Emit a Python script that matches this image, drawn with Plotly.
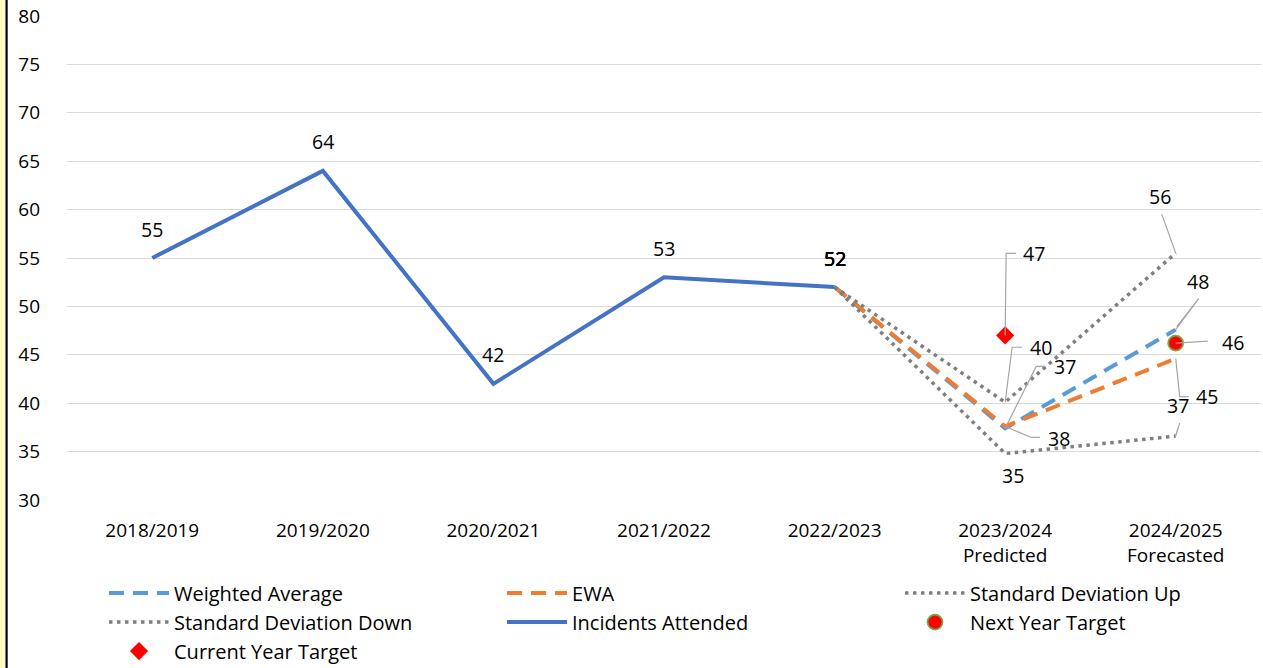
import plotly.graph_objects as go

# ---- data -------------------------------------------------------------
years = ["2018/2019", "2019/2020", "2020/2021", "2021/2022", "2022/2023",
         "2023/2024<br>Predicted", "2024/2025<br>Forecasted"]

incidents_idx = [0, 1, 2, 3, 4]
incidents = [55, 64, 42, 53, 52]

proj_idx = [4, 5, 6]
weighted_avg = [52, 37.4, 47.6]
ewa = [52, 37.6, 44.6]
sd_up = [52, 40.1, 55.5]
sd_down = [52, 34.8, 36.6]

current_idx = [5]
current_target = [47]
next_idx = [6]
next_target = [46.2]

# ---- styling ----------------------------------------------------------
FONT = "Open Sans"
TXT = "#000000"
LEADER = "#A6A6A6"
COL_W = 323      # legend entry width (px) for the first two columns
LAST_COL_W = 220  # narrower last column so the legend stays inside the page

fig = go.Figure()

fig.add_trace(go.Scatter(x=proj_idx, y=weighted_avg, name="Weighted Average",
                         mode="lines", line=dict(color="#5B9BD5", width=4, dash="15px,9px")))
fig.add_trace(go.Scatter(x=proj_idx, y=ewa, name="EWA",
                         mode="lines", line=dict(color="#ED7D31", width=4, dash="15px,9px")))
fig.add_trace(go.Scatter(x=proj_idx, y=sd_up, name="Standard Deviation Up",
                         mode="lines", legendwidth=LAST_COL_W,
                         line=dict(color="#7F7F7F", width=3.5, dash="3.5px,4.5px")))
fig.add_trace(go.Scatter(x=proj_idx, y=sd_down, name="Standard Deviation Down",
                         mode="lines", line=dict(color="#7F7F7F", width=3.5, dash="3.5px,4.5px")))
fig.add_trace(go.Scatter(x=incidents_idx, y=incidents, name="Incidents Attended",
                         mode="lines", line=dict(color="#4472C4", width=4)))
fig.add_trace(go.Scatter(x=next_idx, y=next_target, name="Next Year Target",
                         mode="markers", legendwidth=LAST_COL_W,
                         marker=dict(symbol="circle", size=15, color="#FF0000",
                                     line=dict(color="#70AD47", width=1.8))))
fig.add_trace(go.Scatter(x=current_idx, y=current_target, name="Current Year Target",
                         mode="markers",
                         marker=dict(symbol="diamond", size=14, color="#FF0000",
                                     line=dict(width=0))))

annotations = []
shapes = []


def label(x, y, dx=0, dy=29, leader=None):
    """Value label offset (dx, dy) pixels from the point; optional leader path."""
    annotations.append(dict(x=x, y=y, xref="x", yref="y", text=f"{y:.0f}",
                            showarrow=False, xshift=dx, yshift=dy,
                            xanchor="center", yanchor="middle",
                            font=dict(family=FONT, size=19.5, color=TXT)))
    if leader:
        path = "M0,0 " + " ".join(f"L{px},{py}" for px, py in leader)
        shapes.append(dict(type="path", xref="x", yref="y",
                           xsizemode="pixel", ysizemode="pixel",
                           xanchor=x, yanchor=y, path=path,
                           line=dict(color=LEADER, width=1.2)))


for xi, v in zip(incidents_idx, incidents):
    label(xi, v)

# labels of the projected series (all series share the 2022/2023 start point)
for series in (weighted_avg, ewa, sd_up, sd_down):
    label(proj_idx[0], series[0])

label(proj_idx[1], weighted_avg[1], dx=60, dy=62, leader=[(31, 62), (40, 62)])
label(proj_idx[1], ewa[1], dx=54, dy=-12, leader=[(26, -11), (35, -11)])
label(proj_idx[1], sd_up[1], dx=36, dy=55, leader=[(7, 55), (17, 55)])
label(proj_idx[1], sd_down[1], dx=8, dy=-22)
label(current_idx[0], current_target[0], dx=29, dy=82, leader=[(1, 82), (11, 82)])

label(proj_idx[2], sd_up[2], dx=-16, dy=57, leader=[(-14, 39), (-1, 3)])
label(proj_idx[2], weighted_avg[2], dx=22, dy=48, leader=[(23, 31), (1, 3)])
label(next_idx[0], next_target[0], dx=57, dy=1, leader=[(32, 2)])
label(proj_idx[2], ewa[2], dx=31, dy=-38, leader=[(4, -38), (13, -38)])
label(proj_idx[2], sd_down[2], dx=2, dy=31, leader=[(4, 13), (0, 1)])

# thin coloured strip with a dark rule along the left edge
shapes.append(dict(type="rect", xref="paper", yref="paper", x0=-0.0562, x1=-0.0520,
                   y0=-1, y1=2, fillcolor="#FFF9C4", line=dict(width=0), layer="below"))
shapes.append(dict(type="line", xref="paper", yref="paper", x0=-0.0506, x1=-0.0506,
                   y0=-1, y1=2, line=dict(color="#000000", width=2.2)))

fig.update_layout(
    width=1263, height=668,
    margin=dict(l=67, r=2, t=16, b=168, autoexpand=False),
    paper_bgcolor="white", plot_bgcolor="white",
    font=dict(family=FONT, size=19, color=TXT),
    annotations=annotations, shapes=shapes,
    showlegend=True,
    legend=dict(orientation="h", x=0.031, xanchor="left", y=-0.152, yanchor="top",
                entrywidth=COL_W, entrywidthmode="pixels", traceorder="normal",
                font=dict(family=FONT, size=20, color=TXT), itemwidth=60,
                bgcolor="rgba(0,0,0,0)"),
)
fig.update_xaxes(range=[-0.5, 6.5], tickvals=list(range(len(years))), ticktext=years,
                 showgrid=False, zeroline=False, showline=False, ticks="",
                 ticklabelstandoff=17, tickfont=dict(family=FONT, size=19, color=TXT))
fig.update_yaxes(range=[30, 80], dtick=5, showgrid=True, gridcolor="#D9D9D9", gridwidth=1,
                 zeroline=False, showline=False, ticks="", ticklabelstandoff=26,
                 tickfont=dict(family=FONT, size=19, color=TXT))

fig.write_html("out.html")
